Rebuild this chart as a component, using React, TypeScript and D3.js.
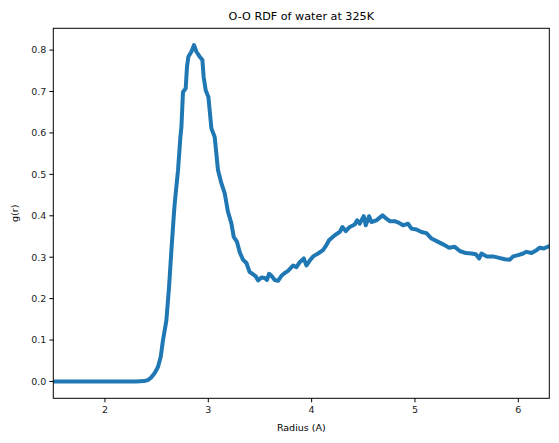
import React from "react";
import * as d3 from "d3";

const radius: number[] = [
  1.5, 1.8, 2.1, 2.3, 2.38, 2.42, 2.449, 2.48, 2.513, 2.54, 2.561, 2.594, 2.62, 2.643, 2.665, 2.675,
  2.707, 2.73, 2.74, 2.755, 2.781, 2.794, 2.807, 2.836, 2.862, 2.885, 2.917, 2.943, 2.955, 2.975,
  3.001, 3.03, 3.062, 3.094, 3.127, 3.159, 3.19, 3.224, 3.246, 3.278, 3.304, 3.336, 3.369, 3.4,
  3.427, 3.459, 3.481, 3.514, 3.546, 3.568, 3.588, 3.611, 3.643, 3.675, 3.708, 3.74, 3.772, 3.82,
  3.853, 3.885, 3.924, 3.95, 3.982, 4.014, 4.062, 4.11, 4.143, 4.168, 4.224, 4.272, 4.298, 4.33,
  4.369, 4.417, 4.44, 4.466, 4.504, 4.524, 4.556, 4.579, 4.627, 4.686, 4.724, 4.756, 4.805, 4.846,
  4.885, 4.933, 4.966, 5.014, 5.063, 5.111, 5.16, 5.224, 5.272, 5.33, 5.385, 5.434, 5.492, 5.547,
  5.589, 5.621, 5.644, 5.692, 5.756, 5.805, 5.869, 5.918, 5.95, 5.998, 6.047, 6.079, 6.128, 6.176,
  6.208, 6.247, 6.289, 6.3,
];
const gr: number[] = [
  0, 0, 0, 0, 0.001, 0.004, 0.01, 0.02, 0.035, 0.06, 0.099, 0.147, 0.228, 0.317, 0.397, 0.43,
  0.51, 0.59, 0.615, 0.699, 0.707, 0.76, 0.784, 0.796, 0.812, 0.796, 0.784, 0.776, 0.735, 0.703,
  0.687, 0.611, 0.59, 0.51, 0.478, 0.454, 0.41, 0.381, 0.349, 0.337, 0.312, 0.294, 0.286, 0.264,
  0.26, 0.254, 0.244, 0.251, 0.25, 0.245, 0.26, 0.255, 0.245, 0.243, 0.255, 0.262, 0.267, 0.28,
  0.276, 0.288, 0.297, 0.28, 0.292, 0.302, 0.309, 0.317, 0.329, 0.341, 0.353, 0.361, 0.373, 0.363,
  0.373, 0.379, 0.389, 0.381, 0.399, 0.377, 0.399, 0.385, 0.389, 0.401, 0.393, 0.387, 0.387, 0.383,
  0.377, 0.381, 0.369, 0.367, 0.361, 0.358, 0.345, 0.337, 0.331, 0.323, 0.325, 0.315, 0.31, 0.309,
  0.307, 0.297, 0.309, 0.302, 0.302, 0.299, 0.295, 0.294, 0.302, 0.305, 0.309, 0.313, 0.31, 0.317,
  0.323, 0.321, 0.326, 0.325,
];
const xTicks: number[] = [2, 3, 4, 5, 6];
const yTicks: number[] = [0, 0.1, 0.2, 0.3, 0.4, 0.5, 0.6, 0.7, 0.8];
const title = "O-O RDF of water at 325K";
const xLabel = "Radius (A)";
const yLabel = "g(r)";

export default function App() {
  const W = 559, H = 443;
  const L = 53.3, R = 549.3, T = 28.3, B = 398.3;
  const x = d3.scaleLinear().domain([1.5, 6.3]).range([L, R]);
  const y = d3.scaleLinear().domain([-0.0406, 0.8526]).range([B, T]);
  const line = d3.line<number>().x((_, i) => x(radius[i])).y((d) => y(d));
  const font = "DejaVu Sans, sans-serif";
  return (
    <svg width={W} height={H} style={{ position: "absolute", left: 0, top: 0 }}>
      <rect width={W} height={H} fill="white" />
      <defs>
        <clipPath id="clip">
          <rect x={L} y={T} width={R - L} height={B - T} />
        </clipPath>
      </defs>
      <path d={line(gr) ?? ""} fill="none" stroke="#1f77b4" strokeWidth={4} strokeLinejoin="round" strokeLinecap="butt" clipPath="url(#clip)" />
      <rect x={L} y={T} width={R - L} height={B - T} fill="none" stroke="black" strokeWidth={1} />
      {xTicks.map((t) => (
        <g key={t}>
          <line x1={x(t)} x2={x(t)} y1={B} y2={B + 4} stroke="black" strokeWidth={1} />
          <text x={x(t)} y={B + 15} textAnchor="middle" fontFamily={font} fontSize={9.5} fill="#222">{t}</text>
        </g>
      ))}
      {yTicks.map((t) => (
        <g key={t}>
          <line x1={L - 4} x2={L} y1={y(t)} y2={y(t)} stroke="black" strokeWidth={1} />
          <text x={L - 7} y={y(t) + 3.4} textAnchor="end" fontFamily={font} fontSize={9.5} fill="#222">{t.toFixed(1)}</text>
        </g>
      ))}
      <text x={(L + R) / 2} y={20} textAnchor="middle" fontFamily={font} fontSize={11.2}>{title}</text>
      <text x={(L + R) / 2} y={431} textAnchor="middle" fontFamily={font} fontSize={9.5}>{xLabel}</text>
      <text transform={`translate(18,${(T + B) / 2}) rotate(-90)`} textAnchor="middle" fontFamily={font} fontSize={9.5}>{yLabel}</text>
    </svg>
  );
}
